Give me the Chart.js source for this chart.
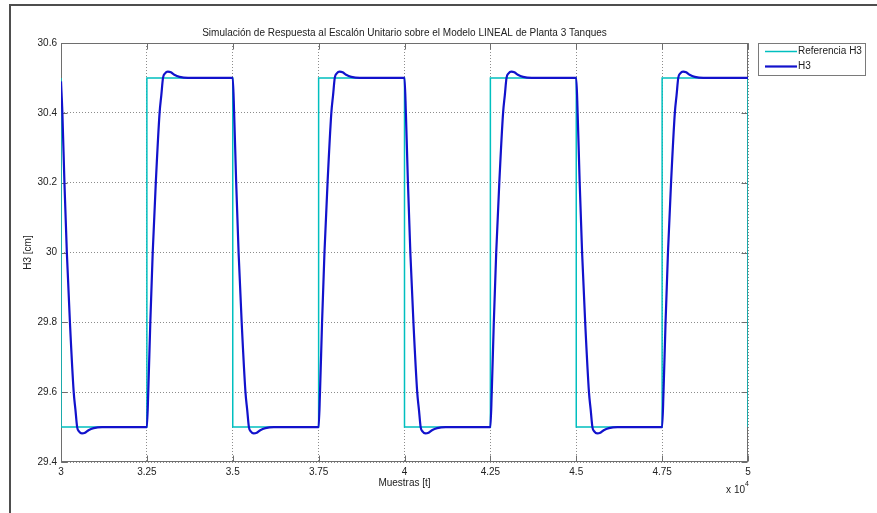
<!DOCTYPE html>
<html><head><meta charset="utf-8">
<script src="https://cdn.jsdelivr.net/npm/chart.js@4.4.1/dist/chart.umd.min.js"></script>
<style>html,body{margin:0;padding:0;background:#fff;overflow:hidden}canvas{display:block}</style>
</head><body>
<canvas id="c" width="877" height="513"></canvas>
<script>
// ---- data ----
const refSamples = [30000,30000,32500,32500,35000,35000,37500,37500,40000,40000,42500,42500,45000,45000,47500,47500,50000,50000];
const refValues  = [30.5,29.5,29.5,30.5,30.5,29.5,29.5,30.5,30.5,29.5,29.5,30.5,30.5,29.5,29.5,30.5,30.5,29.5];

const h3Samples = [
  30000,30040,30100,30170,30260,30370,30420,30470,30530,30610,30700,30800,30950,31200,
  32500,32540,32600,32670,32760,32870,32920,32970,33030,33110,33200,33300,33450,33700,
  35000,35040,35100,35170,35260,35370,35420,35470,35530,35610,35700,35800,35950,36200,
  37500,37540,37600,37670,37760,37870,37920,37970,38030,38110,38200,38300,38450,38700,
  40000,40040,40100,40170,40260,40370,40420,40470,40530,40610,40700,40800,40950,41200,
  42500,42540,42600,42670,42760,42870,42920,42970,43030,43110,43200,43300,43450,43700,
  45000,45040,45100,45170,45260,45370,45420,45470,45530,45610,45700,45800,45950,46200,
  47500,47540,47600,47670,47760,47870,47920,47970,48030,48110,48200,48300,48450,48700,
  50000
];
const h3Values = [
  30.49,30.4,30.2,30.0,29.8,29.6,29.55,29.5,29.487,29.482,29.484,29.491,29.497,29.5,
  29.5,29.6,29.8,30.0,30.2,30.4,30.45,30.5,30.513,30.518,30.516,30.509,30.503,30.5,
  30.5,30.4,30.2,30.0,29.8,29.6,29.55,29.5,29.487,29.482,29.484,29.491,29.497,29.5,
  29.5,29.6,29.8,30.0,30.2,30.4,30.45,30.5,30.513,30.518,30.516,30.509,30.503,30.5,
  30.5,30.4,30.2,30.0,29.8,29.6,29.55,29.5,29.487,29.482,29.484,29.491,29.497,29.5,
  29.5,29.6,29.8,30.0,30.2,30.4,30.45,30.5,30.513,30.518,30.516,30.509,30.503,30.5,
  30.5,30.4,30.2,30.0,29.8,29.6,29.55,29.5,29.487,29.482,29.484,29.491,29.497,29.5,
  29.5,29.6,29.8,30.0,30.2,30.4,30.45,30.5,30.513,30.518,30.516,30.509,30.503,30.5,
  30.5
];

const xTickValues = [30000,32500,35000,37500,40000,42500,45000,47500,50000];
const xTickLabels = ['3','3.25','3.5','3.75','4','4.25','4.5','4.75','5'];
const yTickValues = [29.4,29.6,29.8,30,30.2,30.4,30.6];
const yTickLabels = ['29.4','29.6','29.8','30','30.2','30.4','30.6'];

const seriesNames = ['Referencia H3','H3'];
const titleText = 'Simulación de Respuesta al Escalón Unitario sobre el Modelo LINEAL de Planta 3 Tanques';

// ---- styling ----
const FONT = "'Liberation Sans', Arial, sans-serif";
const TXT = '#222';
const AXC = '#6e6e6e';
const refColor = '#00bfbf';
const h3Color = '#1212cc';

const refData = refSamples.map((x,i)=>({x, y: refValues[i]}));
const h3Data = h3Samples.map((x,i)=>({x, y: h3Values[i]}));

const decor = {
  id: 'decor',
  beforeDraw(chart){
    const c = chart.ctx;
    c.save(); c.fillStyle = '#fff'; c.fillRect(0,0,chart.width,chart.height); c.restore();
  },
  beforeDatasetsDraw(chart){
    const c = chart.ctx, a = chart.chartArea;
    const xs = chart.scales.x, ys = chart.scales.y;
    c.save();
    c.strokeStyle = AXC; c.lineWidth = 1;
    const L = Math.round(a.left)+0.5, R = Math.round(a.right)-0.5, T = Math.round(a.top)+0.5, B = Math.round(a.bottom)-0.5;
    c.strokeRect(L, T, R-L, B-T);
    c.beginPath();
    const tl = 6;
    xTickValues.forEach(v=>{
      const px = Math.round(xs.getPixelForValue(v))+0.5;
      c.moveTo(px,B); c.lineTo(px,B-tl);
      c.moveTo(px,T); c.lineTo(px,T+tl);
    });
    yTickValues.forEach(v=>{
      const py = Math.round(ys.getPixelForValue(v))+0.5;
      c.moveTo(L,py); c.lineTo(L+tl,py);
      c.moveTo(R,py); c.lineTo(R-tl,py);
    });
    c.stroke();
    c.restore();
  },
  afterDraw(chart){
    const c = chart.ctx, a = chart.chartArea;
    c.save();
    // figure frame (left and top)
    c.fillStyle = '#4e4e4e';
    c.fillRect(9,4,868,2);
    c.fillRect(9,4,2,509);
    // exponent label
    c.fillStyle = TXT;
    c.font = '10px ' + FONT;
    c.textBaseline = 'middle'; c.textAlign = 'right';
    c.fillText('x 10', a.right - 3, 490);
    c.font = '7px ' + FONT; c.textAlign = 'left';
    c.fillText('4', a.right - 3, 484);
    // legend
    const lx = 758.5, ly = 43.5, lw = 107, lh = 32;
    c.fillStyle = '#fff'; c.fillRect(lx,ly,lw,lh);
    c.strokeStyle = '#7a7a7a'; c.lineWidth = 1; c.strokeRect(lx,ly,lw,lh);
    const ds = chart.data.datasets;
    const rows = [51.5, 66.5];
    ds.forEach((d,i)=>{
      c.strokeStyle = d.borderColor; c.lineWidth = d.borderWidth;
      c.beginPath(); c.moveTo(765, rows[i]); c.lineTo(797, rows[i]); c.stroke();
      c.fillStyle = TXT; c.font = '10px ' + FONT; c.textAlign='left'; c.textBaseline='middle';
      c.fillText(d.label, 798, rows[i]);
    });
    c.restore();
  }
};

new Chart(document.getElementById('c'), {
  type: 'line',
  data: {
    datasets: [
      { label: seriesNames[0], data: refData, borderColor: refColor, borderWidth: 1.5, pointRadius: 0, tension: 0, order: 2, fill: false },
      { label: seriesNames[1], data: h3Data, borderColor: h3Color, borderWidth: 2.2, pointRadius: 0, cubicInterpolationMode: 'monotone', order: 1, fill: false }
    ]
  },
  options: {
    responsive: false,
    animation: false,
    devicePixelRatio: 1,
    layout: { padding: { left: 0, right: 129, top: 0, bottom: 0 } },
    plugins: {
      legend: { display: false },
      tooltip: { enabled: false },
      title: {
        display: true, text: titleText, fullSize: false,
        font: { family: FONT, size: 10, weight: 'normal' }, color: TXT,
        padding: { top: 27, bottom: 4 }
      }
    },
    scales: {
      x: {
        type: 'linear', min: 30000, max: 50000,
        afterBuildTicks: s => { s.ticks = xTickValues.map(v=>({value: v})); },
        afterFit: s => { s.height = 51; },
        ticks: { callback: v => xTickLabels[xTickValues.indexOf(v)], font: { family: FONT, size: 10 }, color: TXT, padding: 4, maxRotation: 0, autoSkip: false },
        grid: { color: '#8c8c8c', lineWidth: 1, drawTicks: false },
        border: { display: false, dash: [1, 2] },
        title: { display: true, text: 'Muestras [t]', font: { family: FONT, size: 10 }, color: TXT, padding: { top: 24, bottom: 24 } }
      },
      y: {
        type: 'linear', min: 29.4, max: 30.6,
        afterBuildTicks: s => { s.ticks = yTickValues.map(v=>({value: v})); },
        afterFit: s => { s.width = 61; },
        ticks: { callback: v => yTickLabels[yTickValues.findIndex(t=>Math.abs(t-v)<1e-9)], font: { family: FONT, size: 10 }, color: TXT, padding: 4, autoSkip: false },
        grid: { color: '#8c8c8c', lineWidth: 1, drawTicks: false },
        border: { display: false, dash: [1, 2] },
        title: { display: true, text: 'H3 [cm]', font: { family: FONT, size: 10 }, color: TXT, padding: { top: 22, bottom: 22 } }
      }
    }
  },
  plugins: [decor]
});
</script>
</body></html>
